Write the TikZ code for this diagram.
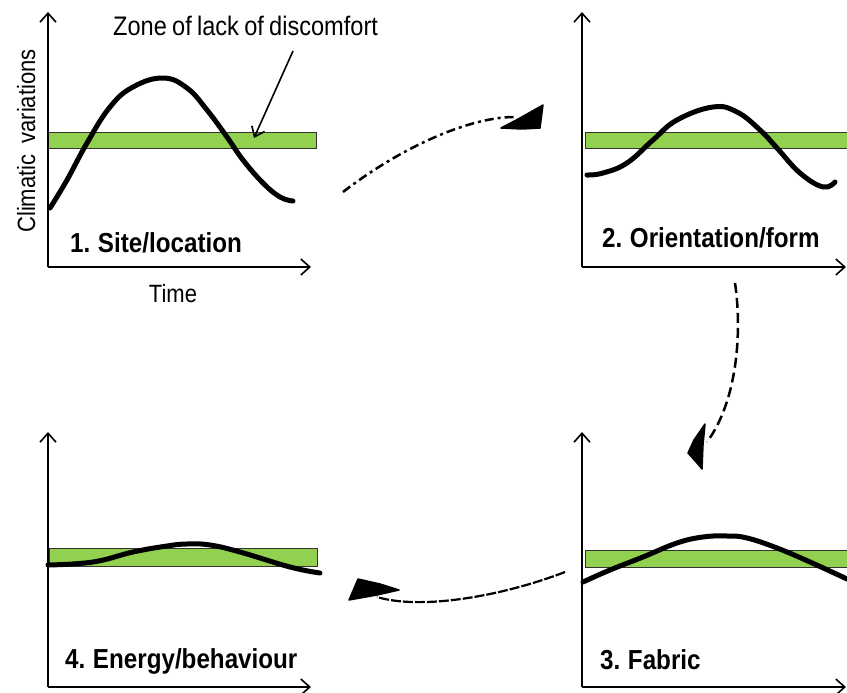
\documentclass[tikz,border=0pt]{standalone}
\usepackage{fontspec}
\setmainfont{Liberation Sans}[FakeStretch=0.88,WordSpace=0.8]
\usetikzlibrary{arrows.meta}
\definecolor{zonegreen}{RGB}{146,208,80}
\tikzset{
  axisline/.style={line width=1.6pt,-{Straight Barb[length=9pt,width=16pt,line width=1.6pt]}},
  zonebar/.style={fill=zonegreen,draw=black!80,line width=0.8pt},
  climcurve/.style={line width=5pt,line cap=round,line join=round},
  paneltitle/.style={anchor=base west,inner sep=0pt,font=\fontsize{27.5}{32}\selectfont\bfseries},
  plainlabel/.style={inner sep=0pt,font=\fontsize{25}{30}\selectfont},
  flowline/.style={line width=2.5pt},
  blob/.style={fill=black,draw=black,line width=1.5pt,line join=round},
}
\begin{document}
\begin{tikzpicture}[x=1pt,y=-1pt]
\useasboundingbox (0,0) rectangle (847,693);
% ---------- Panel 1 ----------
\coordinate (o1) at (48,267);
\coordinate (y1) at (48,12);
\coordinate (x1) at (311,267);
\draw[zonebar] (48,132) rectangle (316,148);
\draw[climcurve] plot[smooth,tension=0.7] coordinates {(50,208) (67,180) (87,143) (110,107) (133,87) (163,78) (187,88) (207,110) (227,137) (243,160) (263,183) (280,197) (293,201)};
\draw[axisline] (o1) -- (y1);
\draw[axisline] (o1) -- (x1);
\node[paneltitle] (t1) at (70,252) {1. Site/location};
\node[plainlabel,anchor=base] (time) at (173,302) {Time};
\node[plainlabel,anchor=base,rotate=90] (clim) at (35,141) {Climatic\hspace{11pt}variations};
\node[plainlabel,anchor=base west,font=\fontsize{26.8}{30}\selectfont] (zone) at (113,36) {Zone of lack of discomfort};
\coordinate (zs) at (293,51);
\coordinate (ze) at (254,138);
\draw[line width=1.6pt,-{Straight Barb[length=9pt,width=14pt,line width=1.6pt]}] (zs) -- (ze);
% ---------- Panel 2 ----------
\coordinate (o2) at (582,267);
\coordinate (y2) at (582,12);
\coordinate (x2) at (846,267);
\draw[zonebar] (585,132) rectangle (847,148);
\draw[climcurve] plot[smooth,tension=0.7] coordinates {(587,175) (603,173) (627,163) (653,140) (677,120) (713,107) (737,112) (760,130) (777,148) (800,173) (823,187) (835,182)};
\draw[axisline] (o2) -- (y2);
\draw[axisline] (o2) -- (x2);
\node[paneltitle] (t2) at (602,247) {2. Orientation/form};
% ---------- Panel 3 ----------
\coordinate (o3) at (582,687);
\coordinate (y3) at (582,432);
\coordinate (x3) at (846,687);
\draw[zonebar] (585,550) rectangle (847,567);
\draw[climcurve] plot[smooth,tension=0.7] coordinates {(583,582) (610,570) (643,557) (677,543) (703,537) (727,536) (747,538) (777,548) (810,562) (847,579)};
\draw[axisline] (o3) -- (y3);
\draw[axisline] (o3) -- (x3);
\node[paneltitle] (t3) at (600,669) {3. Fabric};
% ---------- Panel 4 ----------
\coordinate (o4) at (48,687);
\coordinate (y4) at (48,432);
\coordinate (x4) at (311,687);
\draw[zonebar] (49,548) rectangle (317,566);
\draw[climcurve] plot[smooth,tension=0.7] coordinates {(48,565) (93,562) (133,552) (167,546) (187,544) (210,545) (240,552) (290,567) (320,573)};
\draw[axisline] (o4) -- (y4);
\draw[axisline] (o4) -- (x4);
\node[paneltitle] (t4) at (65,668) {4. Energy/behaviour};
% ---------- flow connectors ----------
\coordinate (a1s) at (343,192);
\coordinate (a1e) at (517,117);
\draw[flowline,dash pattern=on 9pt off 4pt on 3pt off 4pt] (a1s) .. controls (400,148) and (470,116) .. (a1e);
\fill[blob] (501,128) -- (520,118) -- (543,105) -- (540,128) -- (522,129) -- cycle;
\coordinate (a2s) at (735,283);
\coordinate (a2e) at (707,442);
\draw[flowline,dash pattern=on 10pt off 5pt] (a2s) .. controls (742,330) and (738,400) .. (a2e);
\fill[blob] (705,424) -- (694,440) -- (688,453) -- (697,463) -- (702,469) -- (703,445) -- cycle;
\coordinate (a3s) at (565,572);
\coordinate (a3e) at (377,597);
\draw[flowline,line width=2.2pt,dash pattern=on 10pt off 2pt] (a3s) .. controls (500,597) and (420,610) .. (a3e);
\fill[blob] (349,600) -- (358,579) -- (380,584) -- (399,590) -- (377,595) -- cycle;
\end{tikzpicture}
\end{document}
